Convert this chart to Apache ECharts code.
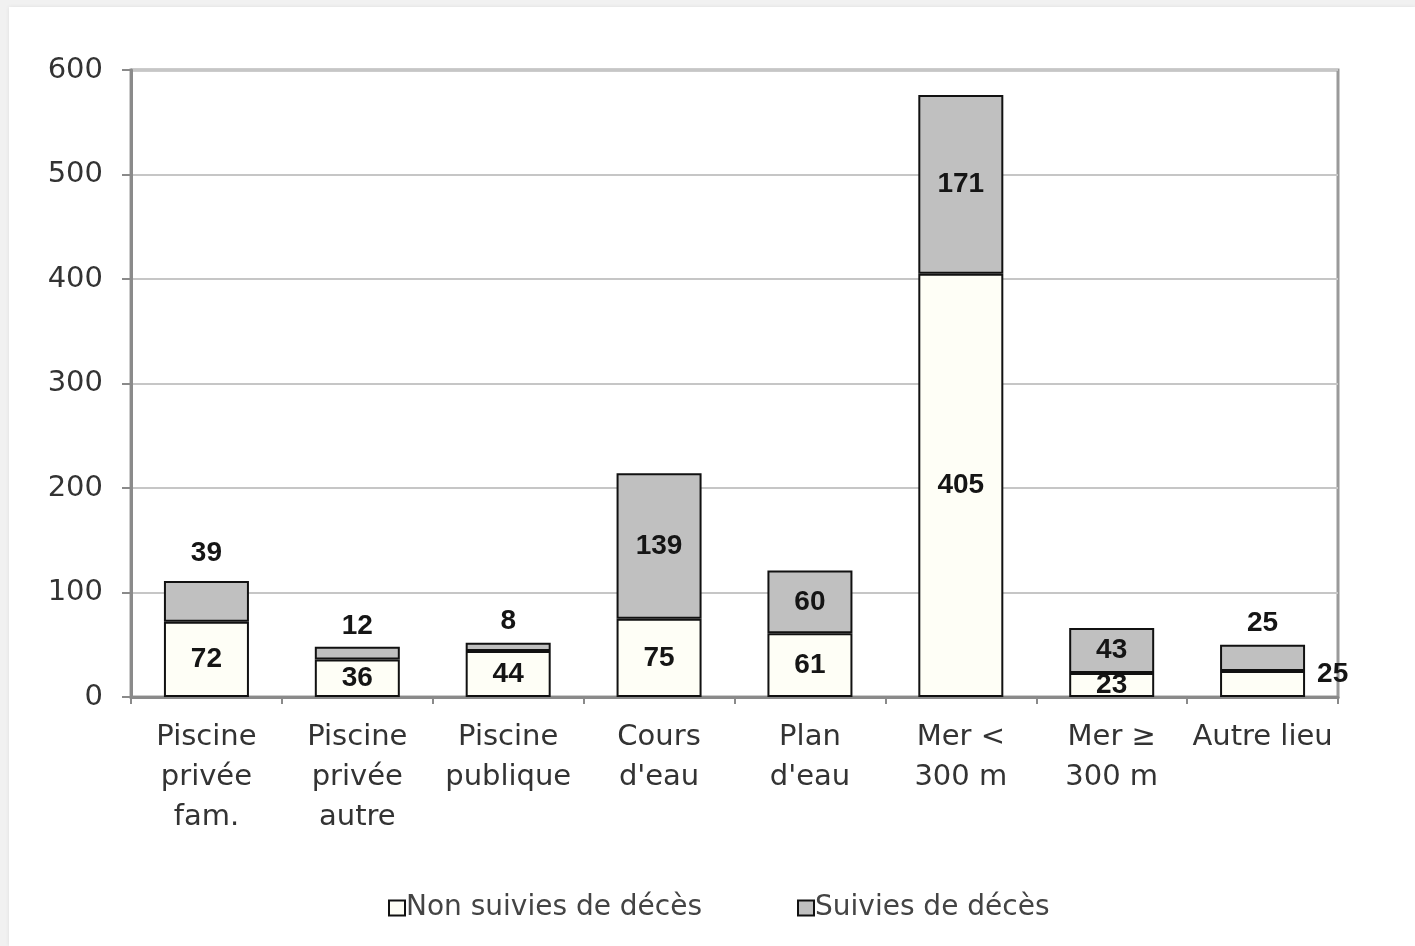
<!DOCTYPE html>
<html>
<head>
<meta charset="utf-8">
<script src="https://cdn.jsdelivr.net/npm/echarts@6/dist/echarts.min.js"></script>
<style>
  html, body { margin: 0; padding: 0; background: #f1f1f1; }
  #panel { position: absolute; left: 9px; top: 7px; right: 0; bottom: 0; background: #ffffff;
           box-shadow: 0 0 4px rgba(0,0,0,0.08); }
  #chart { position: absolute; left: 0; top: 0; width: 1415px; height: 946px; }
</style>
</head>
<body>
<div id="panel"></div>
<div id="chart"></div>
<script>
// Noyades par lieu : non suivies / suivies de décès
const categories = ['Piscine\nprivée\nfam.', 'Piscine\nprivée\nautre', 'Piscine\npublique', "Cours\nd'eau", "Plan\nd'eau", 'Mer <\n300 m', 'Mer ≥\n300 m', 'Autre lieu'];
const nonSuivies = [72, 36, 44, 75, 61, 405, 23, 25];
const suivies = [39, 12, 8, 139, 60, 171, 43, 25];
const yTicks = { min: 0, max: 600, interval: 100 };

// small segments carry their label outside the bar
const suiviesAbove = [0, 1, 2, 7];
const nonSuiviesRight = [7];

const axisFont = 'DejaVu Sans, sans-serif';
const labelFont = { fontFamily: 'Liberation Sans, Arial, sans-serif', fontWeight: 'bold', fontSize: 28, color: '#151515' };

const chart = echarts.init(document.getElementById('chart'), null, { renderer: 'canvas' });

chart.setOption({
  backgroundColor: 'transparent',
  animation: false,
  textStyle: { fontFamily: axisFont },
  grid: { left: 131, right: 77, top: 70, bottom: 249, show: true, borderColor: '#9a9a9a', borderWidth: 3 },
  legend: {
    left: 383, top: 889,
    itemWidth: 16, itemHeight: 15, itemGap: 95,
    icon: 'rect',
    textStyle: { fontFamily: axisFont, fontSize: 28, color: '#444', padding: [0, 0, 0, -4] },
    data: ['Non suivies de décès', 'Suivies de décès']
  },
  xAxis: {
    type: 'category',
    data: categories,
    axisLine: { show: true, lineStyle: { color: '#8a8a8a', width: 3 } },
    axisTick: { show: true, length: 7, lineStyle: { color: '#8a8a8a', width: 2 } },
    axisLabel: { fontFamily: axisFont, fontSize: 29, lineHeight: 40, color: '#333', margin: 20, interval: 0 }
  },
  yAxis: {
    type: 'value',
    min: yTicks.min, max: yTicks.max, interval: yTicks.interval,
    axisLine: { show: true, lineStyle: { color: '#8a8a8a', width: 3 } },
    axisTick: { show: true, length: 9, lineStyle: { color: '#8a8a8a', width: 2 } },
    splitLine: { lineStyle: { color: '#c6c6c6', width: 2 } },
    axisLabel: { fontFamily: axisFont, fontSize: 29, color: '#333', margin: 28 }
  },
  series: [
    {
      name: 'Non suivies de décès',
      type: 'bar',
      stack: 'total',
      barWidth: 85,
      itemStyle: { color: '#fefef6', borderColor: '#111', borderWidth: 2 },
      label: Object.assign({ show: true, position: 'inside' }, labelFont),
      data: nonSuivies.map((v, i) => nonSuiviesRight.includes(i)
        ? { value: v, label: { position: 'right', distance: 12, offset: [0, -10] } }
        : v)
    },
    {
      name: 'Suivies de décès',
      type: 'bar',
      stack: 'total',
      barWidth: 85,
      itemStyle: { color: '#c0c0c0', borderColor: '#111', borderWidth: 2 },
      label: Object.assign({ show: true, position: 'inside' }, labelFont),
      data: suivies.map((v, i) => suiviesAbove.includes(i)
        ? { value: v, label: { position: 'top', distance: i === 0 ? 14 : 7 } }
        : v)
    }
  ]
});
</script>
</body>
</html>
